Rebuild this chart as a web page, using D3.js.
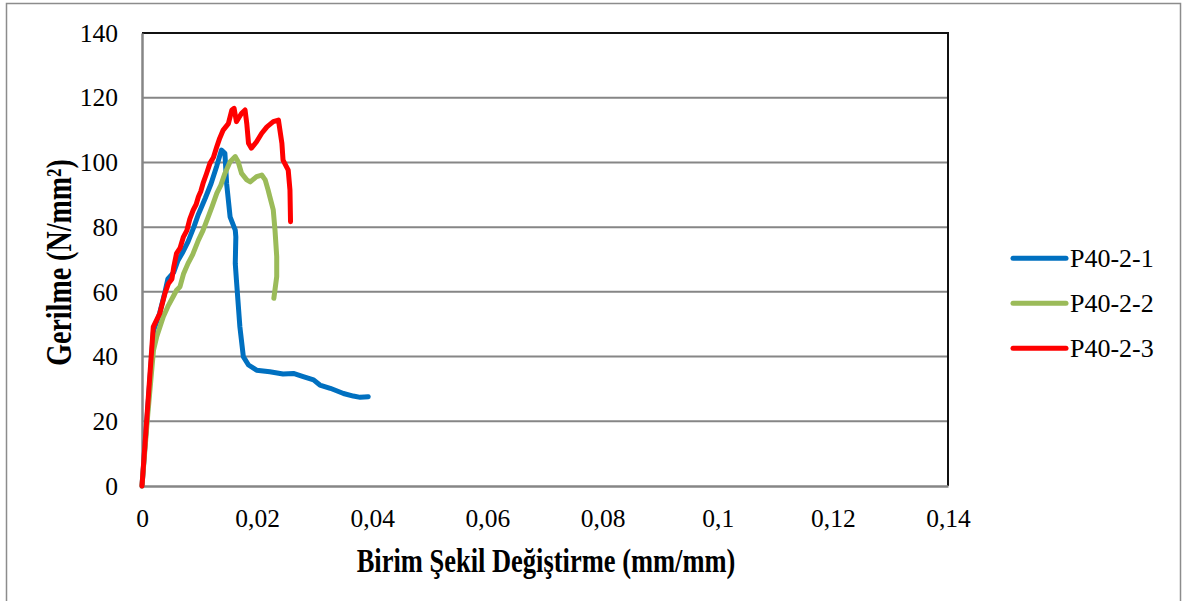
<!DOCTYPE html>
<html>
<head>
<meta charset="utf-8">
<script src="https://cdn.jsdelivr.net/npm/d3@7"></script>
<style>
  html, body { margin: 0; padding: 0; background: #fff; }
  svg { display: block; }
  text { font-family: "Liberation Serif", "Times New Roman", serif; fill: #000; }
</style>
</head>
<body>
<svg id="chart" width="1182" height="601"></svg>
<script>
// Stress–strain data for the three P40-2 specimens
const seriesNames = ["P40-2-1", "P40-2-2", "P40-2-3"];
const seriesColors = ["#0070C0", "#9BBB59", "#FF0000"];

const strain1 = [0, 0.001, 0.002, 0.003, 0.004, 0.0045, 0.0055, 0.0062, 0.007, 0.008, 0.009, 0.0098, 0.011, 0.012, 0.013, 0.0138, 0.0144, 0.0147, 0.0153, 0.0162, 0.0163, 0.0162, 0.0164, 0.017, 0.0176, 0.0185, 0.0199, 0.0222, 0.0245, 0.0263, 0.028, 0.0298, 0.0309, 0.0327, 0.035, 0.0367, 0.0379, 0.0393];
const stress1 = [0, 24, 48, 53, 60, 64, 66, 69.5, 72, 75.5, 80, 84, 89, 93.5, 99, 103.8, 102.8, 93.5, 83.2, 79.1, 77, 68.8, 63.7, 49.2, 40, 37.4, 35.8, 35.3, 34.6, 34.8, 33.8, 32.8, 31.2, 30.2, 28.6, 27.8, 27.4, 27.6];

const strain2 = [0, 0.001, 0.002, 0.00255, 0.0037, 0.0045, 0.0054, 0.006, 0.0066, 0.0072, 0.008, 0.0088, 0.0098, 0.0106, 0.0115, 0.0122, 0.013, 0.0137, 0.0144, 0.0153, 0.0162, 0.0167, 0.0173, 0.0182, 0.0188, 0.0199, 0.0208, 0.0214, 0.0219, 0.0222, 0.0228, 0.0231, 0.0234, 0.0234, 0.0229];
const stress2 = [0, 22, 42, 46.1, 52.3, 55.5, 58.5, 60.5, 61.6, 65.5, 68.8, 71.5, 76, 79, 83.2, 86.5, 90.5, 93, 96.6, 100.2, 101.8, 100.2, 96.6, 94.6, 94, 95.6, 96.1, 94.6, 91.5, 89.4, 85.3, 79.1, 70.9, 64.7, 58];

const strain3 = [0, 0.001, 0.00196, 0.0031, 0.004, 0.0046, 0.0052, 0.0055, 0.006, 0.0066, 0.0072, 0.0078, 0.0083, 0.0089, 0.0094, 0.0098, 0.0102, 0.0106, 0.0112, 0.0118, 0.0124, 0.013, 0.0135, 0.0141, 0.015, 0.0156, 0.016, 0.0164, 0.0173, 0.0179, 0.0182, 0.0185, 0.019, 0.0199, 0.0208, 0.0217, 0.0228, 0.0237, 0.0243, 0.0245, 0.0254, 0.0257, 0.0258];
const stress3 = [0, 25, 49.2, 53.4, 59.6, 62.6, 64, 67.5, 71.9, 73.5, 77, 79, 82.5, 85.3, 87, 89.4, 91, 93.5, 96.5, 99.7, 101.5, 104.9, 107.5, 110, 112, 116.2, 116.7, 112.6, 115.2, 116.2, 112, 105.9, 104.4, 106.4, 109, 111, 112.6, 113.1, 105.9, 100.7, 97.6, 91.5, 81.7];

const xTicks = [0, 0.02, 0.04, 0.06, 0.08, 0.1, 0.12, 0.14];
const xTickLabels = ["0", "0,02", "0,04", "0,06", "0,08", "0,1", "0,12", "0,14"];
const yTicks = [0, 20, 40, 60, 80, 100, 120, 140];

const xTitle = "Birim Şekil Değiştirme (mm/mm)";
const yTitle = "Gerilme (N/mm²)";

const series = [
  { name: seriesNames[0], color: seriesColors[0], x: strain1, y: stress1 },
  { name: seriesNames[1], color: seriesColors[1], x: strain2, y: stress2 },
  { name: seriesNames[2], color: seriesColors[2], x: strain3, y: stress3 }
];

const svg = d3.select("#chart");

// outer chart frame
svg.append("rect")
  .attr("x", 6.5).attr("y", 3.5).attr("width", 1174).attr("height", 600)
  .attr("fill", "#fff").attr("stroke", "#8c8c8c").attr("stroke-width", 1.5);

const plot = { left: 142, top: 33, right: 948, bottom: 486 };

const x = d3.scaleLinear().domain([0, 0.14]).range([plot.left, plot.right]);
const y = d3.scaleLinear().domain([0, 140]).range([plot.bottom, plot.top]);

// horizontal gridlines
svg.append("g")
  .selectAll("line")
  .data(yTicks.filter(d => d > 0 && d < 140))
  .join("line")
  .attr("x1", plot.left).attr("x2", plot.right)
  .attr("y1", d => y(d)).attr("y2", d => y(d))
  .attr("stroke", "#868686").attr("stroke-width", 2);

// plot border: dark top/right, grey axes left/bottom
svg.append("line").attr("x1", plot.left).attr("x2", plot.right + 1)
  .attr("y1", plot.top).attr("y2", plot.top).attr("stroke", "#111").attr("stroke-width", 2);
svg.append("line").attr("x1", plot.right).attr("x2", plot.right)
  .attr("y1", plot.top).attr("y2", plot.bottom).attr("stroke", "#111").attr("stroke-width", 2);

// axes
const yAxis = d3.axisLeft(y).tickValues(yTicks).tickSize(0).tickPadding(24);
const gy = svg.append("g").attr("transform", `translate(${plot.left},0)`).call(yAxis);
gy.select(".domain").attr("stroke", "#868686").attr("stroke-width", 2.5);
gy.selectAll("text").attr("font-size", 25.5).attr("font-family", "Liberation Serif");

const xAxis = d3.axisBottom(x).tickValues(xTicks)
  .tickFormat((d, i) => xTickLabels[i]).tickSize(0).tickPadding(23);
const gx = svg.append("g").attr("transform", `translate(0,${plot.bottom})`).call(xAxis);
gx.select(".domain").attr("stroke", "#868686").attr("stroke-width", 2.5);
gx.selectAll("text").attr("font-size", 25.5).attr("font-family", "Liberation Serif");

// data lines
const line = d3.line()
  .x(d => x(d[0]))
  .y(d => y(d[1]))
  .curve(d3.curveLinear);

svg.append("g")
  .selectAll("path")
  .data(series)
  .join("path")
  .attr("d", s => line(s.x.map((v, i) => [v, s.y[i]])))
  .attr("fill", "none")
  .attr("stroke", s => s.color)
  .attr("stroke-width", 5)
  .attr("stroke-linejoin", "round")
  .attr("stroke-linecap", "round");

// axis titles (tall bold lettering)
svg.append("text")
  .attr("transform", "translate(546,571.5) scale(1,1.24)")
  .attr("text-anchor", "middle")
  .attr("font-size", 26.5).attr("font-weight", "bold")
  .text(xTitle);

svg.append("text")
  .attr("transform", "translate(71,262.5) rotate(-90) scale(1,1.3)")
  .attr("text-anchor", "middle")
  .attr("font-size", 28).attr("font-weight", "bold")
  .text(yTitle);

// legend
const legend = svg.append("g")
  .selectAll("g")
  .data(series)
  .join("g")
  .attr("transform", (d, i) => `translate(1013,${258.3 + i * 45})`);

legend.append("line")
  .attr("x1", 0).attr("x2", 53).attr("y1", 0).attr("y2", 0)
  .attr("stroke", d => d.color).attr("stroke-width", 5)
  .attr("stroke-linecap", "round");

legend.append("text")
  .attr("x", 57).attr("y", 8.4)
  .attr("font-size", 26)
  .text(d => d.name);
</script>
</body>
</html>
